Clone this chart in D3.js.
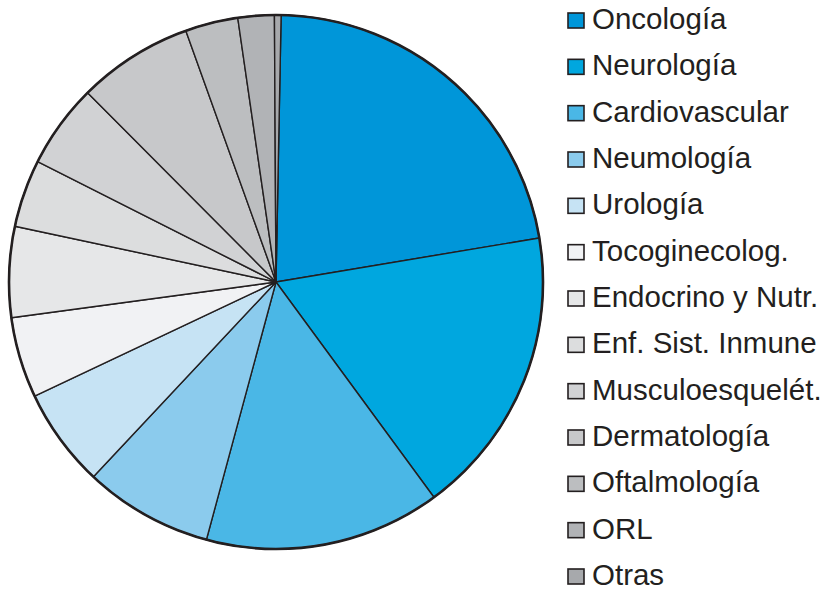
<!DOCTYPE html>
<html>
<head>
<meta charset="utf-8">
<script src="https://cdn.jsdelivr.net/npm/d3@7"></script>
<style>
  body { margin: 0; background: #fff; }
  svg { display: block; }
  .legend text { font-family: "Liberation Sans", Arial, Helvetica, sans-serif; font-size: 29.5px; fill: #231f20; }
</style>
</head>
<body>
<div id="chart"></div>
<script>
'use strict';

// categories, clockwise from the top
var categories = ["Oncología", "Neurología", "Cardiovascular", "Neumología", "Urología",
  "Tocoginecolog.", "Endocrino y Nutr.", "Enf. Sist. Inmune", "Musculoesquelét.",
  "Dermatología", "Oftalmología", "ORL", "Otras"];
// share (%)
var values = [22.1, 17.6, 14.3, 7.8, 6.0, 4.9, 5.5, 4.1, 5.1, 7.0, 3.2, 2.2, 0.4];
var colors = ["#0096d9", "#00a7df", "#4ab7e6", "#8bcbed", "#c6e3f4", "#f1f2f4",
  "#e6e7e8", "#dcddde", "#d1d2d4", "#c7c8ca", "#bcbec0", "#b1b3b6", "#a7a9ac"];

var width = 829, height = 592;
var cx = 276, cy = 282, radius = 267;
var startAngle = 1.1 * Math.PI / 180;

var svg = d3.select("#chart").append("svg")
  .attr("width", width)
  .attr("height", height);

var color = d3.scaleOrdinal().domain(categories).range(colors);

var pie = d3.pie()
  .sort(null)
  .value(function(d) { return d.value; })
  .startAngle(startAngle)
  .endAngle(startAngle + 2 * Math.PI);

var arc = d3.arc().innerRadius(0).outerRadius(radius);

var data = categories.map(function(c, i) { return {name: c, value: values[i]}; });

var g = svg.append("g").attr("transform", "translate(" + cx + "," + cy + ")");

g.selectAll("path.slice")
  .data(pie(data))
  .enter().append("path")
  .attr("class", "slice")
  .attr("d", arc)
  .attr("fill", function(d) { return color(d.data.name); })
  .attr("stroke", "#231f20")
  .attr("stroke-width", 1.4)
  .attr("stroke-linejoin", "round");

g.append("circle")
  .attr("r", radius)
  .attr("fill", "none")
  .attr("stroke", "#231f20")
  .attr("stroke-width", 2.6);

// legend
var ly = d3.scalePoint().domain(categories).range([29, 585]);

var legend = svg.append("g").attr("class", "legend")
  .selectAll("g")
  .data(categories)
  .enter().append("g")
  .attr("transform", function(d) { return "translate(568," + ly(d) + ")"; });

legend.append("rect")
  .attr("x", 0)
  .attr("y", -16)
  .attr("width", 16)
  .attr("height", 15)
  .attr("fill", function(d) { return color(d); })
  .attr("stroke", "#231f20")
  .attr("stroke-width", 1.6);

legend.append("text")
  .attr("x", 24)
  .attr("y", 0)
  .text(function(d) { return d; });
</script>
</body>
</html>
